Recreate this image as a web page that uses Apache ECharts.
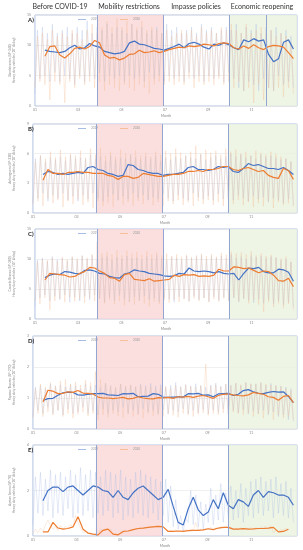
<!DOCTYPE html>
<html>
<head>
<meta charset="utf-8">
<script src="https://cdn.jsdelivr.net/npm/echarts@6/dist/echarts.min.js"></script>
<style>
html,body{margin:0;padding:0;background:#fff;}
#chart{width:303px;height:550px;}
</style>
</head>
<body>
<div id="chart"></div>
<script>
// ---------------- DATA ----------------
const monthTicks = ["01", "03", "05", "07", "09", "11"];
const periodTitles = ["Before COVID-19", "Mobility restrictions", "Impasse policies", "Economic reopening"];
const panelLetters = ["A)", "B)", "C)", "D)", "E)"];
const roadNames = ["Bandeirantes (SP-348)", "Anhanguera (SP-330)", "Castelo Branco (SP-280)", "Raposo Tavares (SP-270)", "Ayrton Senna (SP-70)"];
const yUnitLabel = "Heavy duty vehicles (10\u00b3 #/day)";
const yMaxValues = [15, 9, 15, 3, 4];
const yIntervals = [5, 3, 5, 1, 2];
const restrictionStartDay = 88;
const restrictionEndDay = 181;
const reopeningStartDay = 273;
const extraLineDayA = 326;
const lastAxisDay = 369;
// daily values sampled every 3.5 days from day 0; moving averages sampled weekly from day 14
const dailyStartDay = 0, dailyStepDays = 3.5;
const maStartDay = 14, maStepDays = 7;

const dailyA2019 = [2,12.5,4.5,13,5,12,4,13.5,5.5,12, 4,12.5,5,13,4.5,12,3.5,13,5,12.5, 4,14,5,12,4.5,13,5.5,12.5,4,13.5, 5,12,4.5,13,5,12.5,4,12,5,13.5, 4.5,12.5,5,13,4,12,5.5,12.5,4.5,13, 5,12,4,13.5,5,12.5,4.5,13,5,12, 4,12.5,5.5,13,4.5,12,5,13.5,4,12.5, 5,13,4.5,12,5,12.5,4,13,5.5,12.5, 4.5,13.5,3,12,2.5,13,4,12.5,3.5,13.5, 2.5,12,4.5,13,3,12.5,2.5,13,5,12, 3.5,12.5,4,11.5,3];
const dailyA2020 = [3,11.5,4,12,3.5,11,1,12.5,4,11.5, 3.5,12,0.5,11.5,4,12.5,3,12,4.5,11, 3.5,12.5,4,13.5,3,12,4,13,2.5,14, 3.5,13,3,14.5,2.5,13,3.5,14,3,13.5, 2.5,13,3.5,14,3,12.5,2,13,3.5,12.5, 4,12,3.5,12.5,4,11.5,3.5,12,4,12.5, 3.5,12,4.5,12.5,3,11.5,4,13,3.5,12, 4,12.5,3.5,12,4.5,13,3.5,12.5,4,13.5, 3,12.5,4,12,2.5,13.5,3,12,0.5,12.5, 3.5,13,1,12,3,12.5,2.5,11.5,3,12, 1.5,11.5,3,10.5,2];
const maA2019 = [9.2,9.0,8.9,8.8,9.0,9.6,10.0,9.4,9.6,10.3, 9.9,9.7,9.0,8.8,8.6,8.7,9.0,10.4,10.7,10.2, 10.1,9.8,9.5,9.4,9.2,9.5,9.8,10.2,9.6,10.3, 10.5,10.2,9.7,9.4,10.2,10.0,10.4,10.1,9.6,9.3, 10.9,10.6,11.1,10.7,10.9,8.5,7.3,7.8,10.5,10.9, 9.4];
const maA2020 = [8.2,9.8,9.9,8.4,7.9,8.6,9.5,9.7,9.4,9.8, 10.8,10.4,8.4,7.9,8.0,7.6,7.9,8.5,8.6,9.2, 8.8,8.9,9.1,8.8,9.0,9.3,9.5,9.7,9.6,9.9, 9.8,9.9,10.2,10.1,9.9,10.3,10.4,10.3,9.6,9.4, 9.9,9.5,10.1,9.6,9.3,9.8,10.0,9.9,9.7,8.8, 7.8];

const dailyB2019 = [1,5.5,1.5,5.8,2,5.2,1.2,5.6,1.8,5.4, 1.5,5.7,2,5.3,1.3,5.8,1.7,5.5,1.2,5.6, 1.8,5.4,1.4,5.9,2,5.5,1.5,5.7,1.2,5.3, 1.6,5.8,1.9,5.4,1.3,5.6,1.7,5.5,1.4,5.9, 2,5.6,1.5,5.4,1.8,5.7,1.3,5.5,1.6,5.8, 1.4,5.3,1.9,5.6,1.5,5.4,1.2,5.7,1.8,5.5, 1.5,5.8,1.3,5.6,2,5.5,1.6,5.9,1.4,5.4, 1.7,5.6,1.3,5.8,1.9,5.5,1.4,5.7,1.6,6, 1.3,5.7,1.8,5.9,1.5,5.6,1.2,5.8,1.7,5.5, 1.4,5.9,1.6,5.7,1.1,5.8,1.5,5.6,1.3,5.4, 1,5.5,1.4,5.2,0.8];
const dailyB2020 = [0.8,5.2,1.2,5.8,0.7,5.5,1.5,6.2,1,5.6, 1.3,6.4,0.6,5.7,1.2,6,0.9,5.8,1.4,6.3, 0.8,5.6,1.1,6.5,0.5,5.9,1.2,6.6,0.7,5.8, 1,6.2,0.6,5.7,1.3,6.4,0.8,6,1.1,5.9, 0.7,6.3,1.2,5.8,0.9,6.1,1.4,5.7,0.8,6.2, 1.1,5.9,0.7,6.3,1.2,6,0.9,6.5,1.3,6.1, 0.8,5.8,1.1,6.2,0.7,6.8,1.2,6,0.9,6.4, 1.3,6.1,0.8,6.3,1.1,5.9,0.7,6.5,1.2,6.2, 0.9,6.4,1.3,6,0.8,6.2,1.1,5.8,0.6,6.3, 1,6.1,0.7,5.9,1.2,6.2,0.5,6,1.1,5.7, 0.8,5.5,1,5.2,0.6];
const maB2019 = [3.9,4.2,4.1,3.9,4.0,3.9,4.0,4.1,4.0,4.6, 4.7,4.4,4.3,4.0,3.9,3.7,3.8,4.9,4.8,4.4, 4.3,4.1,4.0,4.0,3.8,3.9,3.9,4.0,4.1,4.6, 4.7,4.4,4.4,4.3,4.4,4.7,4.6,4.7,4.2,4.1, 4.5,5.0,4.8,4.9,4.7,4.5,4.5,4.4,4.6,4.3, 3.9];
const maB2020 = [3.3,4.4,4.0,4.0,3.9,4.1,4.1,4.2,4.1,4.1, 4.0,4.0,4.0,3.8,3.7,3.4,3.7,3.7,3.5,3.6, 4.0,3.9,3.8,3.7,3.7,3.8,3.9,3.9,4.0,4.2, 4.2,4.3,4.2,4.4,4.4,4.5,4.7,4.7,4.4,4.3, 4.5,4.6,4.4,4.2,4.3,3.8,3.6,3.5,4.5,4.3, 3.4];

const dailyC2019 = [2,9.8,3.5,10.2,4,9.6,3,10.4,3.8,9.9, 3.2,10.1,4,9.7,2.8,10.3,3.6,9.8,3,10.5, 3.8,10,3.2,10.6,4,9.9,3.4,10.2,2.8,10.4, 3.6,9.8,3,10.3,3.9,10,3.3,10.5,2.9,10.1, 3.7,10.2,3.1,9.9,3.8,10.4,3.2,10,3.5,10.6, 2.9,10.1,3.6,9.8,3.3,10.3,2.8,10.2,3.7,9.9, 3.4,10.5,3,10.1,3.8,10.3,3.2,10.6,3.5,10, 2.9,10.4,3.7,10.2,3.1,10.5,3.6,10.1,3,10.7, 3.5,10.2,2.8,10.4,3.4,10,3.1,10.6,2.7,10.3, 3.3,10.5,2.6,10.1,3.2,10.4,2.5,10.2,3,9.8, 2.4,10,2.8,9.5,2];
const dailyC2020 = [3,9.5,2.5,10,3.5,9.8,1.5,10.2,3,9.6, 3.4,10.3,2.8,9.9,3.6,10.4,2.9,10.1,3.3,10.6, 2.7,10.2,3.5,10.8,3,12.8,3.4,11,2.6,11.2, 3.2,10.8,2.5,11.5,3,10.6,2.2,11.4,2.8,10.9, 2.4,11.2,3,10.7,2.6,11.3,2.1,10.8,2.9,11.1, 2.5,10.6,3.1,10.9,2.7,10.5,3.2,10.8,2.8,10.4, 3.3,10.7,2.9,10.3,3.4,10.6,3,10.9,3.5,10.5, 2.8,10.8,3.3,10.4,2.9,11,3.4,10.7,3.1,11.2, 3.6,10.9,3,11.1,3.4,10.8,2.6,11.3,3.2,10.6, 2.4,10.9,1.2,10.5,2.8,10.7,2,10.3,2.6,10.1, 1.8,10.4,2.5,9.6,1.5];
const maC2019 = [6.9,7.3,7.5,7.4,7.9,7.8,7.6,7.5,8.1,8.2, 8.0,7.6,7.5,7.1,6.9,6.8,7.5,7.7,8.2,8.0, 7.9,7.6,7.5,7.4,7.2,7.1,7.2,7.6,7.5,8.5, 8.0,7.9,8.0,7.9,7.7,7.9,7.6,7.5,7.6,6.5, 7.6,8.5,8.4,8.6,7.9,7.7,7.7,8.3,8.2,7.8, 6.3];
const maC2020 = [6.5,7.6,7.5,7.4,7.3,7.0,7.1,7.6,7.9,8.6, 8.5,8.0,7.6,6.9,6.8,6.3,7.4,7.6,6.6,6.5, 6.4,6.7,6.3,6.4,6.5,6.6,7.3,7.1,7.4,7.3, 7.4,7.1,7.2,7.1,7.3,8.3,8.0,8.0,8.7,8.6, 8.4,8.5,8.1,7.7,8.0,7.9,7.3,6.4,6.3,6.8, 5.4];

const dailyD2019 = [0.4,1.35,0.6,1.4,0.5,1.3,0.7,1.45,0.5,1.38, 0.6,1.42,0.45,1.36,0.65,1.44,0.5,1.4,0.55,1.3, 0.7,1.46,0.5,1.38,0.6,1.42,0.45,1.35,0.65,1.48, 0.5,1.4,0.6,1.33,0.55,1.45,0.7,1.37,0.5,1.42, 0.6,1.36,0.5,1.44,0.65,1.4,0.55,1.47,0.6,1.38, 0.5,1.43,0.62,1.35,0.48,1.41,0.6,1.5,0.55,1.37, 0.65,1.44,0.5,1.39,0.6,1.46,0.52,1.4,0.63,1.35, 0.5,1.42,0.6,1.48,0.55,1.38,0.65,1.45,0.5,1.41, 0.6,1.47,0.52,1.4,0.62,1.5,0.48,1.44,0.58,1.46, 0.5,1.49,0.6,1.42,0.45,1.47,0.55,1.4,0.4,1.38, 0.45,1.35,0.3,1.3,0.25];
const dailyD2020 = [0.35,1.3,0.5,1.45,0.4,1.35,0.55,1.5,0.45,1.4, 0.6,1.55,0.4,1.6,0.5,1.45,0.35,1.52,0.48,1.42, 0.55,1.58,0.42,1.5,0.5,1.85,0.3,1.6,0.45,1.48, 0.38,1.4,0.5,1.35,0.42,1.45,0.36,1.38,0.48,1.42, 0.4,1.36,0.45,1.4,0.35,1.33,0.5,1.37,0.42,1.3, 0.46,1.35,0.4,1.38,0.5,1.32,0.44,1.4,0.38,1.36, 0.5,1.42,0.45,1.37,0.4,1.35,0.48,1.4,0.52,2.1, 0.44,1.38,0.5,1.42,0.46,1.36,0.52,1.45,0.48,1.4, 0.55,1.48,0.5,1.43,0.45,1.5,0.52,1.46,0.4,1.44, 0.48,1.5,0.35,1.45,0.5,1.42,0.3,1.4,0.45,1.38, 0.35,1.3,0.4,1.25,0.3];
const maD2019 = [0.92,0.98,0.99,1.09,1.17,1.19,1.18,1.10,1.09,1.12, 1.14,1.14,1.15,1.10,1.09,1.08,1.14,1.13,1.15,1.04, 1.05,1.06,1.14,1.12,1.03,1.02,1.03,1.04,1.03,1.14, 1.13,1.15,1.09,1.10,1.04,1.13,1.14,1.15,1.08,1.12, 1.24,1.27,1.20,1.15,1.14,1.18,1.21,1.19,1.20,1.05, 0.85];
const maD2020 = [0.87,1.25,1.22,1.14,1.15,1.20,1.18,1.24,1.16,1.15, 1.13,1.03,1.00,1.00,0.98,1.00,1.02,0.97,0.99,1.04, 1.00,0.98,0.97,1.01,1.00,1.02,0.99,1.04,1.03,1.05, 1.02,1.06,1.08,1.04,0.99,1.08,1.12,1.13,1.10,1.08, 1.07,1.10,1.18,1.15,1.12,1.04,1.02,0.93,1.05,1.08, 0.85];

const dailyE2019 = [0.5,2.6,1.0,2.8,0.9,2.5,1.1,2.9,0.8,2.7, 1.0,2.8,0.9,2.6,1.2,2.9,0.8,2.7,1.0,3.0, 0.9,2.7,1.1,2.9,0.8,2.8,1.0,2.6,0.9,2.9, 1.1,2.8,0.8,2.7,1.0,2.9,0.7,2.6,0.9,2.5, 0.8,2.8,1.0,2.9,0.9,2.7,0.8,2.6,1.0,2.5, 0.7,2.4,0.9,2.5,0.6,2.2,0.4,1.6,0.3,0.9, 0.2,0.8,0.6,2.0,0.5,1.8,0.4,1.5,0.3,1.4, 0.6,2.1,0.5,1.8,0.7,2.3,0.6,1.9,0.8,2.2, 0.7,2.0,0.8,2.3,0.6,2.1,0.9,2.4,0.8,2.5, 1.0,2.6,0.9,2.4,1.1,2.5,0.8,2.6,1.0,2.3, 0.9,2.4,0.8,2.1,0.6];
const dailyE2020 = [0.1,0.3,0.15,0.35,0.2,0.5,0.7,0.45,0.3,0.4, 0.25,0.45,0.3,0.42,0.35,0.5,0.4,0.9,0.6,0.35, 0.15,0.2,0.1,0.15,0.05,0.1,0.02,0.3,0.2,0.35, 0.25,0.3,0.05,0.12,0.03,0.1,0.15,0.25,0.2,0.3, 0.25,0.32,0.3,0.38,0.33,0.4,0.36,0.44,0.38,0.45, 0.4,0.45,0.38,0.3,0.18,0.25,0.2,0.27,0.18,0.24, 0.2,0.28,0.22,0.3,0.25,0.6,0.24,0.3,0.26,0.32, 0.3,0.38,0.28,0.35,0.32,0.42,0.35,0.43,0.36,0.4, 0.28,0.34,0.3,0.36,0.29,0.35,0.31,0.37,0.3,0.36, 0.32,0.4,0.35,0.42,0.3,0.45,0.15,0.25,0.2,0.28, 0.25,0.35,0.28,null,null];
const maE2019 = [1.55,2.0,2.15,2.15,1.95,2.15,2.2,2.0,1.8,2.0, 2.2,2.15,2.0,1.95,1.7,2.0,1.7,1.6,1.9,2.1, 2.2,2.0,1.8,1.6,1.7,2.05,1.3,0.6,0.48,1.2, 1.7,1.15,0.9,1.05,1.6,1.2,1.9,1.35,1.2,1.6, 1.5,1.3,1.8,2.0,1.7,1.95,1.9,1.8,1.8,1.7, 1.35];
const maE2020 = [0.18,0.18,0.6,0.35,0.3,0.33,0.4,0.85,0.3,0.13, 0.08,0.05,0.25,0.3,0.08,0.05,0.2,0.22,0.28,0.33, 0.35,0.38,0.4,0.42,0.4,0.2,0.2,0.22,0.2,0.24, 0.25,0.25,0.27,0.32,0.28,0.35,0.38,0.38,0.3,0.3, 0.32,0.3,0.31,0.33,0.33,0.35,0.38,0.18,0.2,0.3, null];

const daily2019 = [dailyA2019, dailyB2019, dailyC2019, dailyD2019, dailyE2019];
const daily2020 = [dailyA2020, dailyB2020, dailyC2020, dailyD2020, dailyE2020];
const ma2019 = [maA2019, maB2019, maC2019, maD2019, maE2019];
const ma2020 = [maA2020, maB2020, maC2020, maD2020, maE2020];

// ---------------- LAYOUT / STYLE ----------------
const gridBoxes = [
  {top: 15, height: 91},
  {top: 124, height: 89},
  {top: 229, height: 90},
  {top: 336, height: 93},
  {top: 445, height: 91}
];
const titleCenters = [60, 129, 196, 262];
const FONT = 'Lato, "Open Sans", sans-serif';
const BLUE = '#4472C4', ORANGE = '#ED7D31';
const BLUE_LIGHT = '#a8bde6', ORANGE_LIGHT = '#f7c09a';

const chart = echarts.init(document.getElementById('chart'), null, {renderer: 'canvas'});

const grid = [], xAxis = [], yAxis = [], series = [], legend = [], graphicEls = [];

gridBoxes.forEach((g, p) => {
  grid.push({left: 26, right: 6, top: g.top, height: g.height, show: true,
    borderColor: '#b3c3e3', borderWidth: 1, backgroundColor: 'transparent'});
  xAxis.push({type: 'value', gridIndex: p, min: 0, max: lastAxisDay, interval: 61,
    axisLine: {show: false}, axisTick: {show: false}, splitLine: {show: false},
    axisLabel: {fontSize: 3.5, color: '#888', margin: 2, fontFamily: FONT,
      formatter: v => monthTicks[Math.round(v / 61)] || ''},
    name: 'Month', nameLocation: 'middle', nameGap: 8,
    nameTextStyle: {fontSize: 3.5, color: '#888', fontFamily: FONT}});
  yAxis.push({type: 'value', gridIndex: p, min: 0, max: yMaxValues[p], interval: yIntervals[p],
    axisLine: {show: false}, axisTick: {show: false},
    splitLine: {show: true, lineStyle: {color: '#e6e6e6', width: 0.6}},
    axisLabel: {fontSize: 3.5, color: '#888', margin: 4, fontFamily: FONT},
    name: roadNames[p] + '\n' + yUnitLabel, nameLocation: 'middle', nameRotate: 90, nameGap: 9,
    nameTextStyle: {fontSize: 3.3, lineHeight: 4, color: '#888', fontFamily: FONT}});

  const vLines = [restrictionStartDay, restrictionEndDay, reopeningStartDay];
  if (p === 0) vLines.push(extraLineDayA);
  series.push({type: 'line', xAxisIndex: p, yAxisIndex: p, data: [], silent: true, z: 1,
    markArea: {silent: true, data: [
      [{xAxis: restrictionStartDay, itemStyle: {color: 'rgba(250,212,212,0.75)'}}, {xAxis: restrictionEndDay}],
      [{xAxis: reopeningStartDay, itemStyle: {color: 'rgba(234,243,222,0.8)'}}, {xAxis: lastAxisDay}]
    ]},
    markLine: {silent: true, symbol: 'none', label: {show: false},
      lineStyle: {color: '#93a6d2', width: 1, type: 'solid'},
      data: vLines.map(d => ({xAxis: d}))}
  });
  const toDaily = arr => arr.map((v, i) => [dailyStartDay + i * dailyStepDays, v]);
  const toMA = arr => arr.map((v, i) => [maStartDay + i * maStepDays, v]);
  series.push({name: '2019', type: 'line', xAxisIndex: p, yAxisIndex: p, data: toDaily(daily2019[p]),
    showSymbol: false, color: BLUE_LIGHT, lineStyle: {width: 0.7, color: BLUE_LIGHT, opacity: 0.45}, z: 2, silent: true});
  series.push({name: '2020', type: 'line', xAxisIndex: p, yAxisIndex: p, data: toDaily(daily2020[p]),
    showSymbol: false, color: ORANGE_LIGHT, lineStyle: {width: 0.7, color: ORANGE_LIGHT, opacity: 0.45}, z: 2, silent: true});
  series.push({name: '2019 moving average', type: 'line', xAxisIndex: p, yAxisIndex: p, data: toMA(ma2019[p]),
    showSymbol: false, lineStyle: {width: 1.2, color: BLUE}, z: 4, silent: true});
  series.push({name: '2020 moving average', type: 'line', xAxisIndex: p, yAxisIndex: p, data: toMA(ma2020[p]),
    showSymbol: false, lineStyle: {width: 1.2, color: ORANGE}, z: 4, silent: true});

  legend.push({data: ['2019', '2020'], left: 78, top: g.top + 3, itemWidth: 8, itemHeight: 1, itemGap: 22,
    icon: 'rect', selectedMode: false, padding: 0,
    textStyle: {fontSize: 3, color: '#999', fontFamily: FONT}});

  graphicEls.push({type: 'text', left: 28, top: g.top + 2,
    style: {text: panelLetters[p], font: 'bold 6px ' + FONT, fill: '#222'}});
});

periodTitles.forEach((t, i) => {
  graphicEls.push({type: 'text', x: titleCenters[i], y: 7,
    style: {text: t, font: '7px ' + FONT, fill: '#333', textAlign: 'center', textVerticalAlign: 'middle'}});
});

chart.setOption({
  animation: false,
  backgroundColor: '#fff',
  grid, xAxis, yAxis, series, legend,
  graphic: graphicEls
});
</script>
</body>
</html>
